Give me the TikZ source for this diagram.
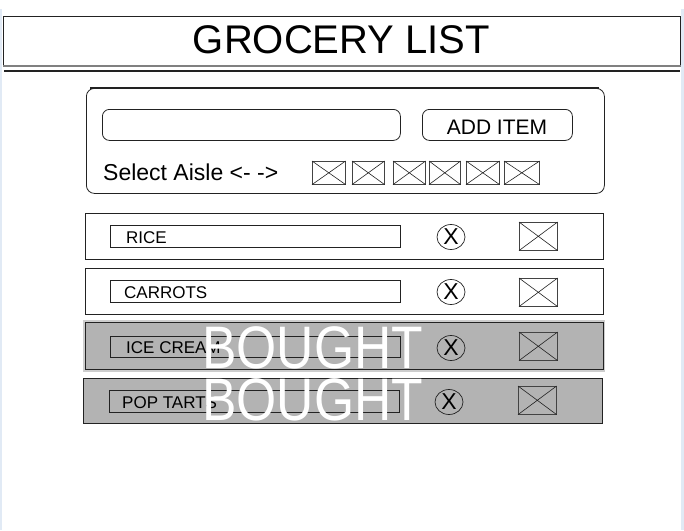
\documentclass[tikz,border=0pt]{standalone}
\usepackage{fontspec}
\setmainfont{Liberation Sans}
\usetikzlibrary{shapes.geometric}
\definecolor{edgeblue}{HTML}{E1EAF5}
\definecolor{rowgray}{HTML}{B3B3B3}
\definecolor{halo}{HTML}{CDCDCD}
\definecolor{ink}{HTML}{222222}
\begin{document}
\begin{tikzpicture}[x=1pt,y=-1pt,
  box/.style 2 args={minimum width=#1pt,minimum height=#2pt,inner sep=0pt,anchor=north west},
  frame/.style={draw=ink,line width=0.9pt},
  field/.style={draw=ink,line width=0.8pt,rounded corners=7pt},
  rowbox/.style={draw=ink,line width=0.9pt,fill=white},
  boughtrow/.style={draw=ink,line width=0.9pt,fill=rowgray},
  itemfield/.style={draw=ink,line width=0.8pt},
  itemtext/.style={font=\fontsize{17}{17}\selectfont,anchor=base west,inner sep=0pt},
  xbox/.style={draw=ink!85,line width=0.6pt},
  diag/.style={ink,line width=0.6pt},
  delbtn/.style={ellipse,draw=ink,line width=0.7pt,minimum width=28pt,minimum height=25pt,inner sep=0pt,font=\fontsize{23}{23}\selectfont},
  bought/.style={white,font=\fontsize{60}{60}\selectfont,anchor=base west,inner sep=0pt}
]
\useasboundingbox (0,0) rectangle (684,530);
\fill[white] (0,0) rectangle (684,530);
\fill[edgeblue] (0,9) rectangle (2,530);
\fill[edgeblue] (681,9) rectangle (684,530);

% title
\node[frame,box={677}{50}] (titlebox) at (3,16) {};
\draw[gray,line width=1.8pt] ([yshift=1pt]titlebox.south west) -- ([yshift=1pt]titlebox.south east);
\node[font=\fontsize{40}{40}\selectfont,anchor=base,inner sep=0pt] (title) at (341.5,53) {GROCERY LIST};
\coordinate (rulel) at (4,71);
\coordinate (ruler) at (680,71);
\draw[ink,line width=1.2pt] (rulel) -- (ruler);

% add panel
\node[field,rounded corners=8pt,box={518}{105}] (panel) at (86,88) {};
\draw[ink,line width=1.4pt] ([xshift=4pt]panel.north west) -- ([xshift=-6pt]panel.north east);
\node[field,box={298}{31}] (input) at (102,109) {};
\node[field,box={150}{31}] (addbtn) at (422,109) {};
\node[font=\fontsize{21}{21}\selectfont,anchor=base,inner sep=0pt] (addtxt) at (497,134) {ADD ITEM};
\node[font=\fontsize{23}{23}\selectfont,anchor=base west,inner sep=0pt] (aisle) at (103,180) {Select Aisle <- ->};
\foreach \i/\a/\b in {1/312/345,2/352/384,3/393/425,4/429/460,5/466/499,6/504/539}{
  \pgfmathsetmacro{\w}{\b-\a}
  \node[xbox,box={\w}{23}] (ab\i) at (\a,161) {};
  \draw[diag] (ab\i.north west) -- (ab\i.south east) (ab\i.north east) -- (ab\i.south west);
}

% rows
\node[rowbox,box={518}{46}] (row1) at (85,213) {};
\node[rowbox,box={518}{46}] (row2) at (85,268) {};
\fill[halo] (83,320) rectangle (605,372);
\node[boughtrow,box={518}{47}] (row3) at (85,322) {};
\node[boughtrow,box={519}{45}] (row4) at (83,378) {};

\node[itemfield,box={290}{22}] (f1) at (110,225) {};
\node[itemfield,box={290}{22}] (f2) at (110,280) {};
\node[itemfield,box={290}{21}] (f3) at (110,336) {};
\node[itemfield,box={290}{22}] (f4) at (109,390) {};

\node[itemtext] (t1) at (126,243) {RICE};
\node[itemtext] (t2) at (124,298) {CARROTS};
\node[itemtext] (t3) at (126,353) {ICE CREAM};
\node[itemtext] (t4) at (122,408) {POP TARTS};

\node[delbtn] (d1) at (451,237) {X};
\node[delbtn] (d2) at (451,292) {X};
\node[delbtn] (d3) at (451,348) {X};
\node[delbtn] (d4) at (449,402) {X};

\foreach \i/\a/\t in {1/519/222,2/519/278,3/519/332,4/518/386}{
  \node[xbox,box={38}{28}] (cb\i) at (\a,\t) {};
  \draw[diag] (cb\i.north west) -- (cb\i.south east) (cb\i.north east) -- (cb\i.south west);
}

\node[bought] (b3) at (202,368) {\scalebox{0.86}[1]{BOUGHT}};
\node[bought] (b4) at (202,420) {\scalebox{0.86}[1]{BOUGHT}};
\end{tikzpicture}
\end{document}
